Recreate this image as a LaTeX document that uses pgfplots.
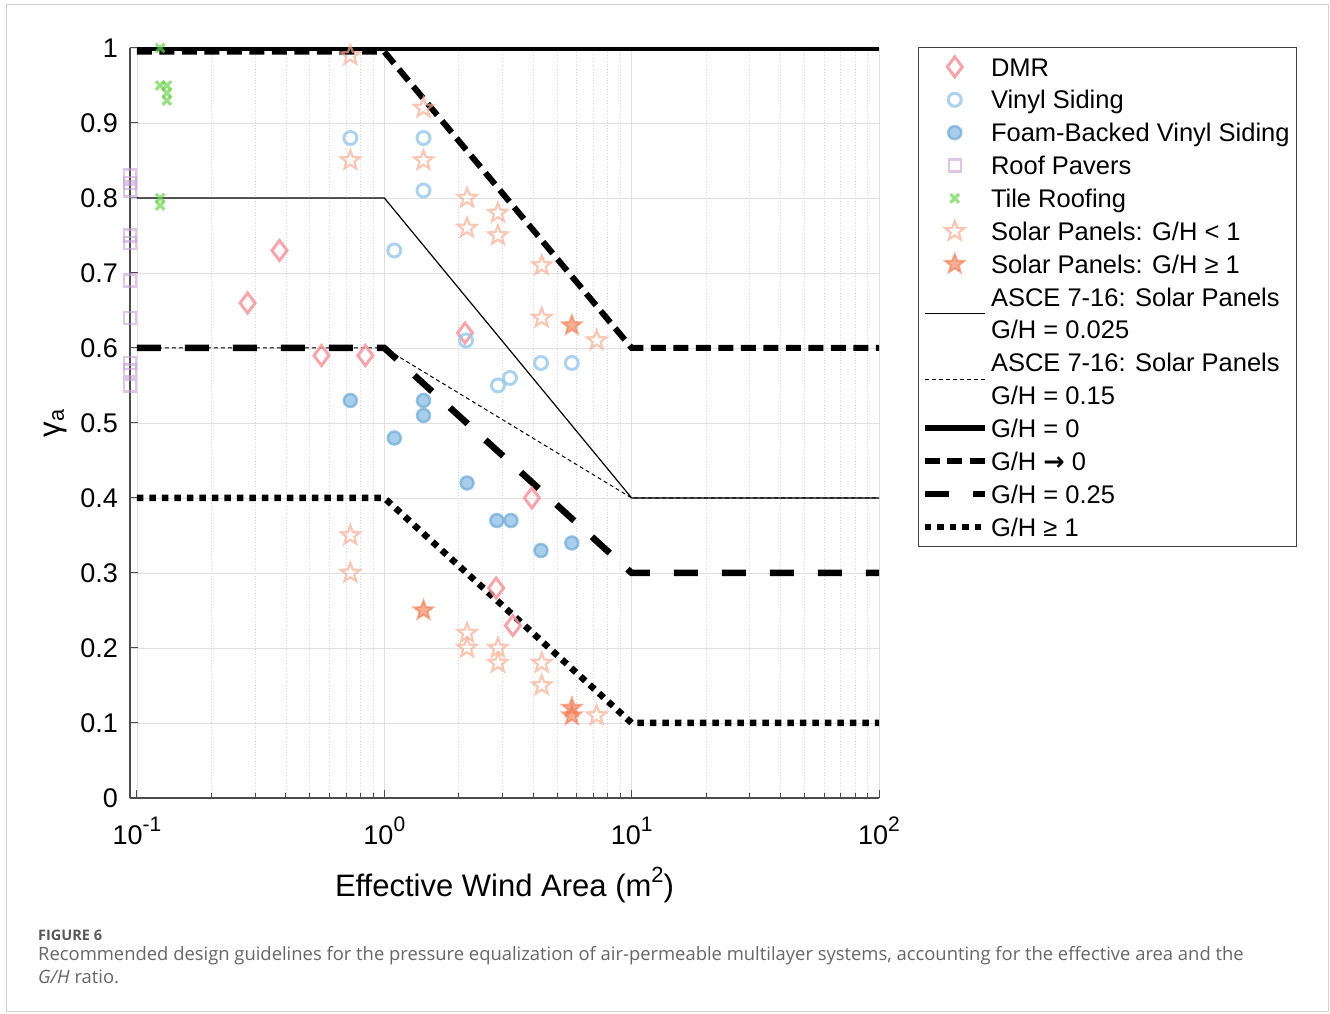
\documentclass[border=0pt]{standalone}
\usepackage{fontspec}
\setmainfont{Liberation Sans}
\newfontfamily\capfont{Open Sans}
\newfontfamily\dejavu{DejaVu Sans}
\usepackage{pgfplots}
\pgfplotsset{compat=1.18}
\usetikzlibrary{plotmarks}

\definecolor{cDMR}{RGB}{244,150,156}
\definecolor{cVin}{RGB}{150,200,232}
\definecolor{cFoam}{RGB}{110,170,215}
\definecolor{cFoamF}{RGB}{140,190,228}
\definecolor{cRoof}{RGB}{200,160,215}
\definecolor{cTile}{RGB}{110,210,80}
\definecolor{cSolA}{RGB}{246,175,148}
\definecolor{cSolB}{RGB}{240,125,85}
\definecolor{cSolBF}{RGB}{245,140,100}

\pgfdeclareplotmark{pstar}{%
  \pgfpathmoveto{\pgfqpointpolar{90}{\pgfplotmarksize}}%
  \pgfpathlineto{\pgfqpointpolar{126}{0.42\pgfplotmarksize}}%
  \pgfpathlineto{\pgfqpointpolar{162}{\pgfplotmarksize}}%
  \pgfpathlineto{\pgfqpointpolar{198}{0.42\pgfplotmarksize}}%
  \pgfpathlineto{\pgfqpointpolar{234}{\pgfplotmarksize}}%
  \pgfpathlineto{\pgfqpointpolar{270}{0.42\pgfplotmarksize}}%
  \pgfpathlineto{\pgfqpointpolar{306}{\pgfplotmarksize}}%
  \pgfpathlineto{\pgfqpointpolar{342}{0.42\pgfplotmarksize}}%
  \pgfpathlineto{\pgfqpointpolar{18}{\pgfplotmarksize}}%
  \pgfpathlineto{\pgfqpointpolar{54}{0.42\pgfplotmarksize}}%
  \pgfpathclose
  \pgfusepathqstroke}
\pgfdeclareplotmark{pstar*}{%
  \pgfpathmoveto{\pgfqpointpolar{90}{\pgfplotmarksize}}%
  \pgfpathlineto{\pgfqpointpolar{126}{0.42\pgfplotmarksize}}%
  \pgfpathlineto{\pgfqpointpolar{162}{\pgfplotmarksize}}%
  \pgfpathlineto{\pgfqpointpolar{198}{0.42\pgfplotmarksize}}%
  \pgfpathlineto{\pgfqpointpolar{234}{\pgfplotmarksize}}%
  \pgfpathlineto{\pgfqpointpolar{270}{0.42\pgfplotmarksize}}%
  \pgfpathlineto{\pgfqpointpolar{306}{\pgfplotmarksize}}%
  \pgfpathlineto{\pgfqpointpolar{342}{0.42\pgfplotmarksize}}%
  \pgfpathlineto{\pgfqpointpolar{18}{\pgfplotmarksize}}%
  \pgfpathlineto{\pgfqpointpolar{54}{0.42\pgfplotmarksize}}%
  \pgfpathclose
  \pgfusepathqfillstroke}

\newcommand\LS{\rule[-7.3pt]{0pt}{32.86pt}}
\newcommand\two[2]{{\renewcommand\arraystretch{0.3}\begin{tabular}{@{}l@{}}\LS#1\\\LS#2\end{tabular}}}
\newcommand\sps[1]{\raisebox{13pt}{\fontsize{21}{21}\selectfont #1}}

\begin{document}
\begin{tikzpicture}[x=1pt,y=1pt]
\path[use as bounding box] (0,0) rectangle (1330,1014);
\draw[black!18, line width=1pt] (6.5,2) rectangle (1328,1009);
\begin{axis}[
  at={(130pt,216pt)}, anchor=south west, scale only axis,
  width=749pt, height=750pt,
  xmode=log, xmin=0.0937, xmax=100, ymin=0, ymax=1,
  axis x line*=bottom, axis y line*=left,
  axis line style={-, black!70, line width=1.2pt},
  tick align=inside, major tick length=8pt, minor tick length=5pt,
  tick style={black!70, line width=1pt},
  xtick={0.1,1,10,100},
  xticklabels={10\sps{-1},10\sps{0},10\sps{1},10\sps{2}},
  ytick={0,0.1,0.2,0.3,0.4,0.5,0.6,0.7,0.8,0.9,1},
  yticklabels={0,0.1,0.2,0.3,0.4,0.5,0.6,0.7,0.8,0.9,1},
  tick label style={font=\fontsize{27}{32}\selectfont, inner sep=0pt},
  xticklabel style={anchor=base, yshift=-47pt},
  yticklabel style={anchor=east, xshift=-12pt},
  xmajorgrids, xminorgrids, ymajorgrids,
  major grid style={black!12, line width=0.8pt},
  minor grid style={black!16, line width=0.8pt, dotted},
  xlabel={Effective Wind Area (m\raisebox{14pt}{\fontsize{22}{22}\selectfont 2})},
  ylabel={γ\textsubscript{a}},
  every axis x label/.style={at={(axis description cs:0.5,0)}, anchor=base, yshift=-99pt, font=\fontsize{31}{36}\selectfont},
  every axis y label/.style={at={(axis description cs:-0.1,0.5)}, anchor=center, rotate=90, font=\fontsize{31}{36}\selectfont},
  legend cell align=left,
  legend style={at={(1,1)}, anchor=north west, xshift=39pt, yshift=1pt,
    draw=black!75, line width=1pt, inner xsep=3pt, inner ysep=3pt,
    font=\fontsize{25.5}{32.86}\selectfont, row sep=0pt, column sep=3pt,
    nodes={inner sep=0pt, text depth=, text height=}},
  legend image code/.code={\draw[mark repeat=2,mark phase=2,#1] plot coordinates {(0pt,0pt) (30pt,0pt) (60pt,0pt)};},
]
% DMR
\addplot[only marks, mark=diamond, mark size=10pt, mark options={draw=cDMR, draw opacity=0.85, line width=3pt}]
 coordinates {(0.377,0.73) (0.280,0.66) (0.557,0.59) (0.838,0.59) (2.12,0.62) (3.95,0.40) (2.83,0.28) (3.31,0.23)};
\addlegendentry{\LS DMR}
% Vinyl siding
\addplot[only marks, mark=o, mark size=6.5pt, mark options={draw=cVin, draw opacity=0.8, line width=3pt}]
 coordinates {(0.729,0.88) (1.44,0.88) (1.44,0.81) (1.097,0.73) (2.14,0.61) (2.88,0.55) (3.22,0.56) (4.30,0.58) (5.73,0.58)};
\addlegendentry{\LS Vinyl Siding}
% Foam-backed
\addplot[only marks, mark=*, mark size=6.5pt, mark options={draw=cFoam, fill=cFoamF, draw opacity=0.7, fill opacity=0.75, line width=2.5pt}]
 coordinates {(0.729,0.53) (1.44,0.53) (1.44,0.51) (1.097,0.48) (2.16,0.42) (2.85,0.37) (3.25,0.37) (4.30,0.33) (5.73,0.34)};
\addlegendentry{\LS Foam-Backed Vinyl Siding\hspace*{4pt}}
% Roof pavers
\addplot[only marks, mark=square, mark size=6pt, mark options={draw=cRoof, draw opacity=0.6, line width=2.5pt}]
 coordinates {(0.0937,0.83) (0.0937,0.82) (0.0937,0.81) (0.0937,0.75) (0.0937,0.74) (0.0937,0.69) (0.0937,0.64) (0.0937,0.58) (0.0937,0.57) (0.0937,0.55)};
\addlegendentry{\LS Roof Pavers}
% Tile roofing
\addplot[only marks, mark=x, mark size=6pt, mark options={draw=cTile, draw opacity=0.7, line width=3.2pt}]
 coordinates {(0.124,1.0) (0.124,0.95) (0.132,0.95) (0.132,0.94) (0.132,0.93) (0.124,0.80) (0.124,0.79)};
\addlegendentry{\LS Tile Roofing}
% Solar G/H < 1
\addplot[only marks, mark=pstar, mark size=10pt, mark options={draw=cSolA, draw opacity=0.7, line width=2.2pt, line join=miter}]
 coordinates {(0.729,0.99) (1.44,0.92) (0.729,0.85) (1.44,0.85) (2.16,0.80) (2.16,0.76) (2.88,0.78) (2.88,0.75) (4.33,0.71) (4.33,0.64) (7.22,0.61)
  (0.729,0.35) (0.729,0.30) (2.16,0.22) (2.16,0.20) (2.88,0.20) (2.88,0.18) (4.33,0.18) (4.33,0.15) (7.22,0.11)};
\addlegendentry{\LS Solar Panels: G/H < 1}
% Solar G/H >= 1
\addplot[only marks, mark=pstar*, mark size=10pt, mark options={draw=cSolB, fill=cSolBF, draw opacity=0.6, fill opacity=0.7, line width=2pt, line join=miter}]
 coordinates {(1.44,0.25) (5.73,0.63) (5.73,0.12) (5.73,0.11)};
\addlegendentry{\LS Solar Panels: G/H ≥ 1}
% ASCE 0.025
\addplot[black, line width=1.2pt, mark=none] coordinates {(0.1,0.8) (1,0.8) (10,0.4) (100,0.4)};
\addlegendentry{\two{ASCE 7-16: Solar Panels}{G/H = 0.025}}
% ASCE 0.15
\addplot[black, line width=1pt, dash pattern=on 4pt off 3pt, mark=none] coordinates {(0.1,0.6) (1,0.6) (10,0.4) (100,0.4)};
\addlegendentry{\two{ASCE 7-16: Solar Panels}{G/H = 0.15}}
% G/H = 0
\addplot[black, line width=6pt, mark=none] coordinates {(0.1,1) (100,1)};
\addlegendentry{\LS G/H = 0}
% G/H -> 0
\addplot[black, line width=6pt, dash pattern=on 15pt off 7.5pt, mark=none] coordinates {(0.1,0.995) (1,0.995) (10,0.6) (100,0.6)};
\addlegendentry{\LS G/H {\dejavu\bfseries →} 0}
% G/H = 0.25
\addplot[black, line width=6.5pt, dash pattern=on 24pt off 24pt, mark=none] coordinates {(0.1,0.6) (1,0.6) (10,0.3) (100,0.3)};
\addlegendentry{\LS G/H = 0.25}
% G/H >= 1
\addplot[black, line width=6.5pt, dash pattern=on 6.5pt off 6pt, mark=none] coordinates {(0.1,0.4) (1,0.4) (10,0.1) (100,0.1)};
\addlegendentry{\LS G/H ≥ 1}
\end{axis}
\node[anchor=base west, inner sep=0pt, font=\capfont\bfseries\fontsize{14.5}{16}\selectfont, text=black!65] at (38,73) {FIGURE 6};
\node[anchor=base west, inner sep=0pt, font=\capfont\fontsize{18.4}{23}\selectfont, text=black!60] at (38,53) {Recommended design guidelines for the pressure equalization of air-permeable multilayer systems, accounting for the effective area and the};
\node[anchor=base west, inner sep=0pt, font=\capfont\fontsize{18.4}{23}\selectfont, text=black!60] at (38,30) {\textit{G/H} ratio.};
\end{tikzpicture}
\end{document}
